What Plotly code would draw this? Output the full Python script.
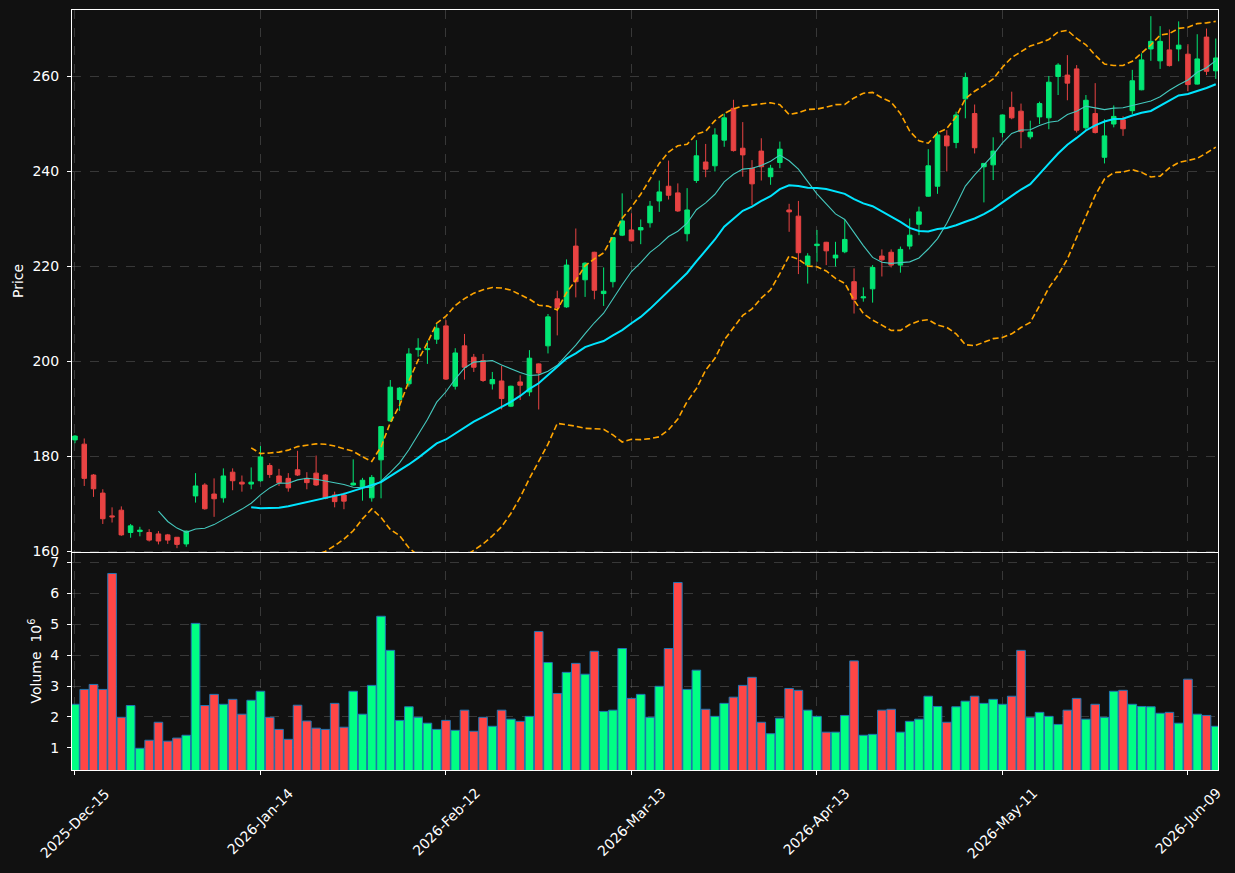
import pandas as pd
import plotly.graph_objects as go

# ---------------- data ----------------
start_date = "2025-12-15"
end_date = "2026-06-12"
holidays = ["2025-12-25", "2026-01-01", "2026-01-19", "2026-02-16", "2026-04-03", "2026-05-25"]

opens = [183.4, 182.5, 176.0, 172.2, 167.4, 168.6, 163.9, 164.1, 163.9, 163.6,
         163.4, 162.9, 161.5, 171.6, 173.9, 172.0, 171.2, 176.6, 174.5, 174.1,
         174.8, 178.0, 175.8, 175.3, 177.1, 175.3, 176.4, 176.0, 171.8, 171.8,
         173.9, 173.5, 171.2, 179.2, 187.4, 191.9, 195.2, 202.4, 202.4, 204.6,
         207.4, 194.7, 203.2, 200.8, 200.1, 195.2, 195.8, 190.5, 195.6, 193.5,
         199.4, 203.2, 213.1, 211.4, 224.2, 217.1, 222.9, 214.2, 216.7, 226.5,
         227.6, 227.6, 229.1, 233.7, 236.8, 235.4, 226.8, 238.0, 241.9, 241.1,
         246.5, 253.2, 244.8, 240.6, 244.2, 238.8, 241.8, 231.8, 230.5, 220.2,
         224.3, 225.0, 221.7, 223.0, 216.7, 213.3, 215.2, 222.1, 222.9, 220.2,
         224.2, 228.8, 234.7, 236.8, 247.4, 246.0, 255.2, 252.1, 240.9, 241.3,
         248.1, 253.4, 252.6, 247.2, 251.4, 251.2, 259.9, 260.2, 261.5, 249.1,
         252.1, 242.9, 249.9, 250.8, 252.7, 257.1, 265.7, 263.2, 265.5, 265.7,
         264.6, 258.3, 268.2, 261.1]
highs = [184.4, 183.7, 176.2, 173.0, 169.2, 169.4, 165.7, 165.1, 164.6, 164.2,
         163.6, 162.9, 164.3, 176.4, 174.3, 175.3, 177.4, 177.4, 175.9, 177.6,
         182.1, 178.5, 177.3, 176.4, 181.1, 176.6, 180.1, 176.2, 172.5, 172.3,
         179.3, 175.4, 176.0, 186.3, 196.0, 194.5, 202.7, 204.8, 204.3, 207.8,
         208.6, 202.7, 205.7, 201.5, 201.5, 197.7, 199.0, 194.8, 197.0, 202.3,
         199.5, 209.9, 214.8, 221.4, 227.9, 220.8, 223.0, 219.7, 226.1, 235.3,
         231.1, 229.8, 233.7, 238.0, 242.2, 237.4, 236.4, 246.5, 245.7, 249.0,
         252.1, 255.0, 250.3, 242.3, 246.9, 241.3, 246.2, 233.1, 233.7, 222.7,
         227.6, 225.1, 225.1, 229.7, 219.5, 215.5, 220.2, 223.5, 223.5, 224.1,
         230.0, 232.5, 244.6, 248.3, 248.6, 252.5, 260.7, 254.0, 241.7, 247.1,
         251.9, 256.7, 254.2, 250.6, 254.6, 260.0, 262.7, 264.4, 262.3, 256.0,
         258.5, 250.9, 253.8, 251.5, 261.3, 264.8, 272.6, 270.5, 269.8, 271.5,
         266.7, 268.8, 270.0, 267.9]
lows = [182.7, 173.7, 171.4, 165.7, 166.0, 163.2, 162.8, 163.1, 162.0, 161.4,
        161.5, 160.6, 160.9, 170.2, 168.7, 167.2, 170.2, 172.8, 172.5, 173.0,
        174.6, 175.4, 173.7, 172.5, 175.8, 173.0, 173.7, 170.9, 169.2, 168.8,
        173.8, 170.6, 170.4, 171.1, 187.2, 189.5, 194.6, 200.9, 199.4, 203.6,
        196.0, 194.0, 196.1, 197.7, 195.6, 194.0, 189.8, 190.3, 191.8, 192.6,
        189.8, 201.6, 205.4, 211.2, 213.4, 213.5, 213.0, 211.6, 215.5, 226.3,
        225.2, 224.6, 228.1, 231.4, 234.0, 231.4, 225.2, 237.5, 238.7, 239.9,
        245.1, 244.1, 238.8, 232.8, 238.0, 237.1, 240.6, 227.2, 218.3, 216.3,
        220.9, 220.2, 219.9, 222.7, 210.0, 212.5, 212.3, 217.8, 219.7, 218.6,
        223.5, 226.5, 234.6, 235.2, 239.9, 244.8, 251.1, 243.7, 233.4, 238.1,
        247.1, 250.9, 244.8, 246.7, 249.9, 248.8, 256.0, 254.9, 248.1, 248.6,
        247.9, 241.6, 249.2, 247.4, 252.0, 257.0, 263.2, 261.5, 262.0, 263.1,
        256.8, 258.2, 260.2, 259.4]
closes = [184.2, 175.3, 173.1, 166.8, 167.2, 163.4, 165.3, 164.4, 162.3, 162.1,
          162.3, 161.4, 164.2, 173.7, 168.9, 171.0, 175.8, 174.8, 174.1, 174.5,
          179.8, 176.1, 174.4, 173.3, 176.0, 174.4, 173.9, 171.1, 170.4, 170.5,
          174.3, 174.9, 175.5, 186.2, 194.5, 194.3, 201.5, 202.7, 202.6, 206.9,
          196.2, 201.7, 198.7, 198.7, 195.9, 196.1, 192.1, 194.7, 194.9, 200.6,
          197.5, 209.3, 211.2, 220.2, 216.7, 220.6, 214.9, 214.7, 226.0, 229.5,
          225.3, 228.1, 232.6, 235.6, 234.9, 231.6, 231.8, 243.2, 240.4, 247.6,
          251.2, 244.3, 243.4, 237.3, 240.9, 240.6, 244.6, 231.4, 222.8, 222.1,
          224.6, 223.2, 222.3, 225.6, 213.0, 213.5, 219.7, 221.3, 220.2, 223.5,
          226.5, 231.4, 241.1, 247.6, 245.3, 251.8, 259.7, 244.9, 241.6, 244.2,
          251.8, 251.2, 248.3, 248.2, 254.2, 258.7, 262.3, 258.5, 248.6, 254.9,
          248.1, 247.4, 251.5, 248.9, 259.0, 263.4, 267.3, 267.3, 262.2, 266.5,
          258.2, 263.6, 261.0, 263.8]
volumes_m = [2.41, 2.89, 3.05, 2.89, 6.63, 1.99, 2.37, 0.99, 1.25, 1.83,
             1.22, 1.32, 1.41, 5.02, 2.37, 2.73, 2.41, 2.57, 2.09, 2.54,
             2.83, 1.99, 1.60, 1.28, 2.38, 1.87, 1.64, 1.60, 2.44, 1.67,
             2.83, 2.09, 3.02, 5.25, 4.15, 1.89, 2.33, 1.99, 1.80, 1.60,
             1.89, 1.57, 2.22, 1.54, 1.99, 1.70, 2.22, 1.93, 1.86, 2.02,
             4.76, 3.76, 2.76, 3.44, 3.73, 3.38, 4.12, 2.18, 2.22, 4.21,
             2.60, 2.73, 1.99, 2.99, 4.21, 6.34, 2.89, 3.51, 2.25, 2.02,
             2.44, 2.64, 3.02, 3.28, 1.83, 1.46, 1.96, 2.92, 2.86, 2.22,
             2.02, 1.51, 1.51, 2.05, 3.81, 1.41, 1.44, 2.22, 2.25, 1.51,
             1.86, 1.93, 2.67, 2.34, 1.83, 2.33, 2.51, 2.67, 2.44, 2.57,
             2.41, 2.67, 4.15, 1.99, 2.15, 2.02, 1.76, 2.22, 2.60, 1.93,
             2.41, 1.99, 2.83, 2.86, 2.41, 2.34, 2.33, 2.12, 2.15, 1.80,
             3.22, 2.09, 2.05, 1.70]

# trading-day categories
dates = [d for d in pd.bdate_range(start_date, end_date) if d.strftime("%Y-%m-%d") not in holidays]
n = len(closes)
idx = list(range(n))
tick_step = 20
tick_vals = idx[::tick_step]
tick_text = [dates[i].strftime("%Y-%b-%d") for i in tick_vals]

# indicators derived from closes
close_s = pd.Series(closes)
ma10 = close_s.rolling(10).mean()
ma20 = close_s.rolling(20).mean()
sd20 = close_s.rolling(20).std()
bb_up = ma20 + 2 * sd20
bb_dn = ma20 - 2 * sd20

# ---------------- style ----------------
BG = "#111111"
UP_C = "#02e774"
DN_C = "#e84343"
VUP = "#00ff84"
VDN = "#ff4646"
GRID = "rgba(128,128,128,0.35)"
FONT = "DejaVu Sans"
PRICE_DOM = [0.2868, 1]
VOL_DOM = [0, 0.2855]

vol_colors = [VUP if c >= o else VDN for o, c in zip(opens, closes)]

fig = go.Figure()

fig.add_trace(go.Candlestick(
    x=idx, open=opens, high=highs, low=lows, close=closes,
    increasing=dict(line=dict(color=UP_C, width=1), fillcolor=UP_C),
    decreasing=dict(line=dict(color=DN_C, width=1), fillcolor=DN_C),
    whiskerwidth=0, xaxis="x", yaxis="y", showlegend=False, hoverinfo="skip"))

fig.add_trace(go.Scatter(x=idx, y=bb_up, mode="lines", xaxis="x", yaxis="y",
                         line=dict(color="#ffa500", width=1.6, dash="6px,3px"), showlegend=False))
fig.add_trace(go.Scatter(x=idx, y=bb_dn, mode="lines", xaxis="x", yaxis="y",
                         line=dict(color="#ffa500", width=1.6, dash="6px,3px"), showlegend=False))
fig.add_trace(go.Scatter(x=idx, y=ma10, mode="lines", xaxis="x", yaxis="y",
                         line=dict(color="#45c9be", width=1.1), showlegend=False))
fig.add_trace(go.Scatter(x=idx, y=ma20, mode="lines", xaxis="x", yaxis="y",
                         line=dict(color="#00e5ff", width=2), showlegend=False))

fig.add_trace(go.Bar(x=idx, y=volumes_m, xaxis="x2", yaxis="y2",
                     marker=dict(color=vol_colors, line=dict(color="#1f77b4", width=1)),
                     width=0.93, showlegend=False, hoverinfo="skip"))

x_range = [-0.32, 123.24]
axis_common = dict(showline=True, linecolor="white", linewidth=1, mirror=True,
                   gridcolor=GRID, griddash="dash", gridwidth=0.8, zeroline=False,
                   tickfont=dict(color="white", size=14, family=FONT),
                   ticks="outside", tickcolor="white", ticklen=4)
x_top = {k: v for k, v in axis_common.items() if k not in ("ticks", "tickcolor", "ticklen")}

annotations = [
    dict(text="Price", xref="paper", yref="paper", x=0, y=sum(PRICE_DOM) / 2,
         xshift=-54, xanchor="center", yanchor="middle", textangle=-90, showarrow=False,
         font=dict(color="white", size=14, family=FONT)),
    dict(text="Volume  10<sup>6</sup>", xref="paper", yref="paper", x=0, y=sum(VOL_DOM) / 2,
         xshift=-37, xanchor="center", yanchor="middle", textangle=-90, showarrow=False,
         font=dict(color="white", size=14, family=FONT)),
]
for tv, tt in zip(tick_vals, tick_text):
    annotations.append(dict(text=tt, xref="x2", yref="paper", x=tv, y=0,
                            xanchor="center", yanchor="top", yshift=-12,
                            textangle=-45, showarrow=False,
                            font=dict(color="white", size=14, family=FONT)))

fig.update_layout(
    width=1235, height=873,
    paper_bgcolor=BG, plot_bgcolor=BG,
    margin=dict(l=72, r=17, t=10, b=103),
    font=dict(family=FONT, color="white", size=14),
    bargap=0.07,
    xaxis=dict(domain=[0, 1], anchor="y", range=x_range, tickvals=tick_vals,
               showticklabels=False, ticks="", rangeslider=dict(visible=False), **x_top),
    yaxis=dict(domain=PRICE_DOM, anchor="x", range=[159.79, 273.9],
               tickvals=[160, 180, 200, 220, 240, 260], ticklabelstandoff=5, **axis_common),
    xaxis2=dict(domain=[0, 1], anchor="y2", range=x_range, matches="x",
                tickvals=tick_vals, showticklabels=False, **axis_common),
    yaxis2=dict(domain=VOL_DOM, anchor="x2", range=[0.29, 7.29],
                tickvals=[1, 2, 3, 4, 5, 6, 7], ticklabelstandoff=5, **axis_common),
    annotations=annotations,
)

fig.write_html("out.html")
